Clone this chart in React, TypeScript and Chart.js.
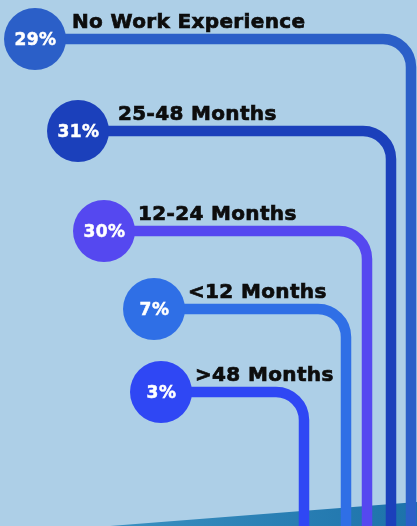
import React, { useEffect, useRef } from "react";
import { Chart, registerables } from "chart.js";

Chart.register(...registerables);

// ---- data ----
const categories = ["No Work Experience", "25-48 Months", "12-24 Months", "<12 Months", ">48 Months"];
const shares = [29, 31, 30, 7, 3];

// ---- styles ----
const seriesColors = ["#2b5fc8", "#1b40bb", "#5548f0", "#2f6fe6", "#2f47f4"];

// ---- infographic layout (stage units, 417 x 526) ----
const bubbleX = [35, 78, 104, 154, 161];
const rowY = [39, 131, 231, 309, 392];
const railX = [411, 391, 367, 346, 304];
const labelX = [72, 118, 138, 188, 195];
const STAGE_W = 417;
const STAGE_H = 526;
const BUBBLE_R = 31;
const RAIL_W = 10.5;
const CORNER_R = 28;

const infographicPlugin = {
  id: "infographic",
  beforeDraw(chart: any) {
    const { ctx, width, height } = chart;
    ctx.save();
    ctx.fillStyle = "#adcfe7";
    ctx.fillRect(0, 0, width, height);
    // bottom band
    const xs = chart.scales.x;
    const ys = chart.scales.y;
    const grad = ctx.createLinearGradient(xs.getPixelForValue(120), 0, xs.getPixelForValue(417), 0);
    grad.addColorStop(0, "#3a8fc0");
    grad.addColorStop(1, "#1c72aa");
    ctx.fillStyle = grad;
    ctx.beginPath();
    ctx.moveTo(xs.getPixelForValue(110), ys.getPixelForValue(526));
    ctx.lineTo(xs.getPixelForValue(417), ys.getPixelForValue(502));
    ctx.lineTo(xs.getPixelForValue(417), ys.getPixelForValue(526));
    ctx.closePath();
    ctx.fill();
    ctx.restore();
  },
  beforeDatasetsDraw(chart: any) {
    const { ctx } = chart;
    const xs = chart.scales.x;
    const ys = chart.scales.y;
    ctx.save();
    ctx.lineWidth = RAIL_W;
    ctx.lineCap = "butt";
    categories.forEach((_, i) => {
      const x0 = xs.getPixelForValue(bubbleX[i]);
      const y0 = ys.getPixelForValue(rowY[i]);
      const xr = xs.getPixelForValue(railX[i]);
      const yb = ys.getPixelForValue(STAGE_H) + 2;
      ctx.strokeStyle = seriesColors[i];
      ctx.beginPath();
      ctx.moveTo(x0, y0);
      ctx.lineTo(xr - CORNER_R, y0);
      ctx.arcTo(xr, y0, xr, y0 + CORNER_R, CORNER_R);
      ctx.lineTo(xr, yb);
      ctx.stroke();
    });
    ctx.restore();
  },
  afterDatasetsDraw(chart: any) {
    const { ctx } = chart;
    const xs = chart.scales.x;
    const ys = chart.scales.y;
    ctx.save();
    categories.forEach((cat, i) => {
      const cx = xs.getPixelForValue(bubbleX[i]);
      const cy = ys.getPixelForValue(rowY[i]);
      ctx.fillStyle = "#ffffff";
      ctx.strokeStyle = "#ffffff";
      ctx.lineWidth = 0.5;
      ctx.font = "bold 17px 'DejaVu Sans'";
      (ctx as any).letterSpacing = "0.5px";
      ctx.textAlign = "center";
      ctx.textBaseline = "middle";
      ctx.fillText(shares[i] + "%", cx + 0.5, cy + 2);
      ctx.strokeText(shares[i] + "%", cx + 0.5, cy + 2);
      ctx.fillStyle = "#0d0d0d";
      ctx.strokeStyle = "#0d0d0d";
      ctx.lineWidth = 0.7;
      ctx.font = "bold 20px 'DejaVu Sans'";
      (ctx as any).letterSpacing = "0.35px";
      ctx.textAlign = "left";
      ctx.textBaseline = "alphabetic";
      const lx = xs.getPixelForValue(labelX[i]);
      ctx.fillText(cat, lx, cy - 11);
      ctx.strokeText(cat, lx, cy - 11);
    });
    ctx.restore();
  },
};

export default function App() {
  const ref = useRef<HTMLCanvasElement>(null);
  useEffect(() => {
    if (!ref.current) return;
    const chart = new Chart(ref.current, {
      type: "scatter",
      data: {
        datasets: [
          {
            data: categories.map((_, i) => ({ x: bubbleX[i], y: rowY[i] })),
            backgroundColor: seriesColors,
            borderWidth: 0,
            pointRadius: BUBBLE_R,
            pointHoverRadius: BUBBLE_R,
            clip: false,
          } as any,
        ],
      },
      options: {
        responsive: false,
        animation: false,
        events: [],
        layout: { padding: 0, autoPadding: false },
        plugins: { legend: { display: false }, tooltip: { enabled: false } },
        scales: {
          x: { type: "linear", display: false, min: 0, max: STAGE_W },
          y: { type: "linear", display: false, min: 0, max: STAGE_H, reverse: true },
        },
      } as any,
      plugins: [infographicPlugin],
    });
    return () => chart.destroy();
  }, []);
  return (
    <div style={{ position: "fixed", left: 0, top: 0, width: STAGE_W, height: STAGE_H }}>
      <canvas ref={ref} width={STAGE_W} height={STAGE_H} style={{ display: "block" }} />
    </div>
  );
}
